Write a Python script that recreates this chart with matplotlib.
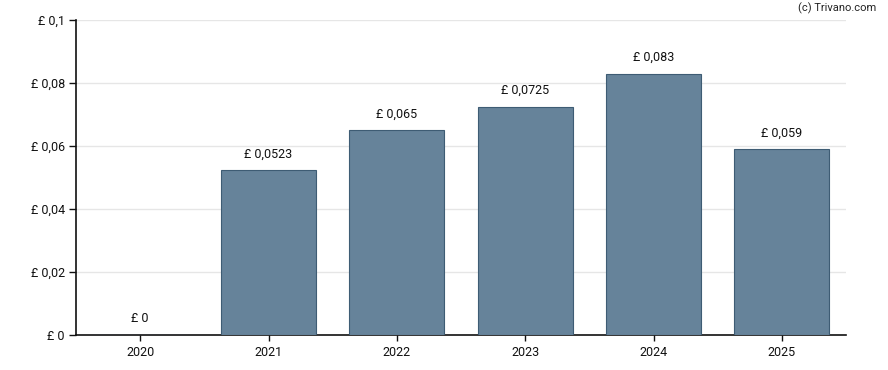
import matplotlib
matplotlib.use("Agg")
import matplotlib.pyplot as plt

years = ["2020", "2021", "2022", "2023", "2024", "2025"]
values = [0, 0.0523, 0.065, 0.0725, 0.083, 0.059]
labels = ["£ 0", "£ 0,0523", "£ 0,065", "£ 0,0725", "£ 0,083", "£ 0,059"]
yticks = [0, 0.02, 0.04, 0.06, 0.08, 0.1]
ytick_labels = ["£ 0", "£ 0,02", "£ 0,04", "£ 0,06", "£ 0,08", "£ 0,1"]

plt.rcParams['font.family'] = ['Roboto', 'DejaVu Sans']

fig = plt.figure(figsize=(8.88, 3.70), dpi=100)
ax = fig.add_axes([76/888, 1 - 335/370, 770/888, 315/370])

x = list(range(len(years)))
ax.bar(x, values, width=0.74, color='#66839a', edgecolor='#3e5c74', linewidth=0.8, zorder=3)

for xi, v, lab in zip(x, values, labels):
    ax.annotate(lab, (xi, v), xytext=(0, 7), textcoords='offset points',
                ha='center', va='bottom', fontsize=9, color='#111111')

ax.set_xlim(-0.5, len(years) - 0.5)
ax.set_ylim(0, 0.1)
ax.set_xticks(x)
ax.set_xticklabels(years, fontsize=9)
ax.set_yticks(yticks)
ax.set_yticklabels(ytick_labels, fontsize=9)
ax.grid(axis='y', color='#e6e6e6', linewidth=1, zorder=0)
ax.tick_params(axis='x', length=4, width=1, pad=4, colors='#111111')
ax.tick_params(axis='y', length=5, width=1, pad=3, colors='#111111')
for s in ['top', 'right']:
    ax.spines[s].set_visible(False)
for s in ['left', 'bottom']:
    ax.spines[s].set_color('#111111')
    ax.spines[s].set_linewidth(1.2)

fig.text(876/888, 1 - 8/370, "(c) Trivano.com", ha='right', va='center', fontsize=8, color='#222222')

fig.savefig("out.png", dpi=100)
